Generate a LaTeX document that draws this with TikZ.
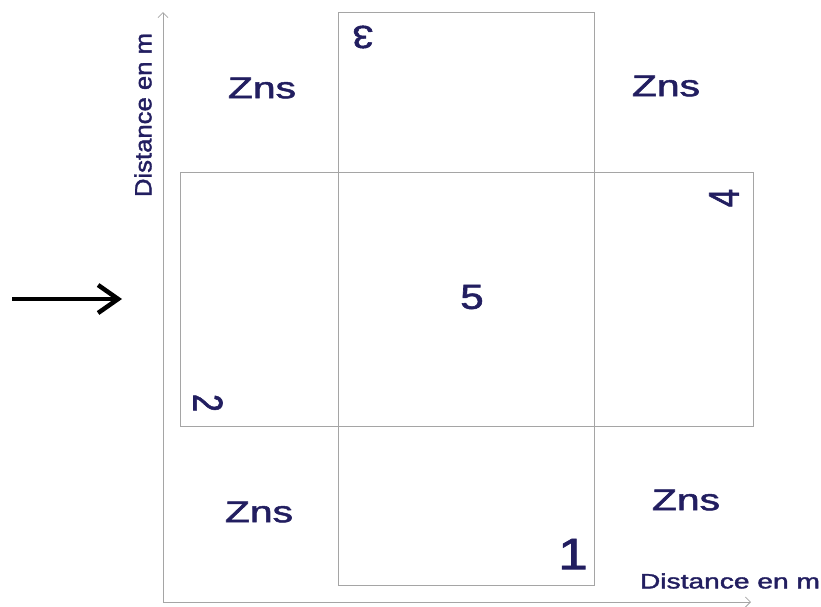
\documentclass[tikz,border=0pt]{standalone}
\usepackage{fontspec}
\setmainfont{Liberation Sans}
\newfontfamily\lblfont[FakeBold=1.6]{Liberation Sans}
\usetikzlibrary{arrows.meta}
\definecolor{navy}{RGB}{34,30,96}
\definecolor{linegray}{RGB}{165,165,165}
\newcommand{\zlab}[4][0]{\scalebox{#2}[1]{\rotatebox{#1}{\lblfont\fontsize{#3}{#3}\selectfont #4}}}
\begin{document}
\begin{tikzpicture}[x=1pt,y=-1pt,
  cell/.style={draw=linegray, line width=0.9pt, inner sep=0pt, outer sep=0pt},
  lab/.style={text=navy, inner sep=0pt},
  axis/.style={draw=linegray, line width=0.8pt, -{Straight Barb[length=5pt,width=10pt]}}]
\useasboundingbox (0,0) rectangle (821,606);
% boxes
\node[cell, minimum width=256pt, minimum height=160pt] (topbox) at (466,92) {};
\node[cell, minimum width=158pt, minimum height=254pt] (leftbox) at (259,299) {};
\node[cell, minimum width=256pt, minimum height=254pt] (centerbox) at (466,299) {};
\node[cell, minimum width=159pt, minimum height=254pt] (rightbox) at (673.5,299) {};
\node[cell, minimum width=256pt, minimum height=159pt] (bottombox) at (466,505.5) {};
% axes
\coordinate (O) at (163,602);
\coordinate (ytop) at (163,12);
\coordinate (xend) at (751,602);
\draw[axis] (O) -- (ytop);
\draw[axis] (O) -- (xend);
% big arrow
\coordinate (astart) at (12,299);
\coordinate (aend) at (122,299);
\draw[line width=4.5pt, -{Straight Barb[length=20pt,width=28pt]}] (astart) -- (aend);
% labels
\node[lab] (zns1) at (262,88) {\zlab{1.36}{30}{Zns}};
\node[lab] (zns2) at (666,86) {\zlab{1.36}{30}{Zns}};
\node[lab] (zns3) at (259,512) {\zlab{1.36}{30}{Zns}};
\node[lab] (zns4) at (686,500) {\zlab{1.36}{30}{Zns}};
\node[lab] (n5) at (472,297) {\zlab{1.2}{35}{5}};
\node[lab] (n1) at (573,554) {\zlab{1.2}{44}{1}};
\node[lab] (n3) at (363,37) {\zlab[180]{1.2}{32}{3}};
\node[lab] (n4) at (724,198) {\zlab[90]{1.3}{33}{4}};
\node[lab] (n2) at (208,403) {\zlab[-90]{1.3}{32}{2}};
\node[lab] (ylab) at (143,115) {\rotatebox{90}{\resizebox{164pt}{17pt}{\lblfont Distance en m}}};
\node[lab] (xlab) at (730,581) {\resizebox{180pt}{15pt}{\lblfont Distance en m}};
\end{tikzpicture}
\end{document}
